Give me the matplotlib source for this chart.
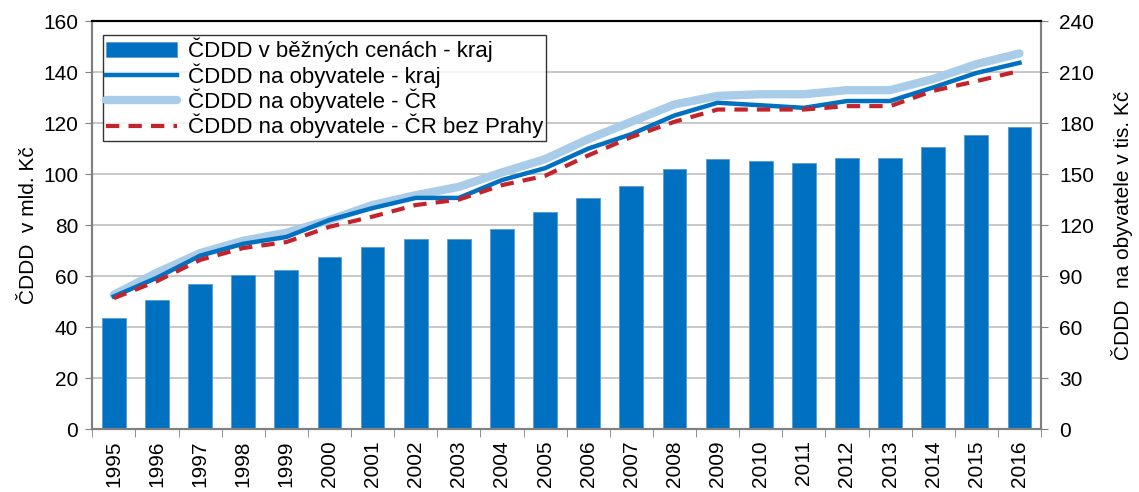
import matplotlib.pyplot as plt
import numpy as np

plt.rcParams["font.family"] = ["Liberation Sans", "DejaVu Sans"]

years = [str(y) for y in range(1995, 2017)]

# ČDDD v běžných cenách - kraj (mld. Kč), levá osa
cddd_kraj = [43.5, 50.5, 57, 60.5, 62.5, 67.5, 71.5, 74.5, 74.5, 78.5, 85,
             90.5, 95.5, 102, 106, 105, 104.5, 106.5, 106.5, 110.5, 115.5, 118.5]

# ČDDD na obyvatele (tis. Kč), pravá osa
obyv_kraj = [78, 89, 102, 109, 113, 123, 130, 136, 136, 146.5, 153.5,
             165, 173.5, 184.5, 192, 190.5, 189, 193, 193, 201, 209.5, 215.5]
obyv_cr = [79, 92, 103.5, 110.8, 115.5, 123, 131.8, 137.6, 142.5, 151, 158.8,
           170.6, 180.8, 191, 196, 197, 197, 199.4, 199.4, 206, 214.7, 221]
obyv_cr_bez_prahy = [77, 87, 99.5, 106.5, 110, 119, 125, 131.8, 135, 143.5, 149,
                     161, 171.8, 180.8, 188, 188, 188, 190, 190, 199, 204.7, 210.7]

blue = "#0070C0"
light = "#A9CCE8"
red = "#C3232B"

fig = plt.figure(figsize=(11.39, 4.92), dpi=100)
ax = fig.add_axes([0.081, 0.128, 0.833, 0.829])
ax2 = ax.twinx()

x = np.arange(len(years))
bars = ax.bar(x, cddd_kraj, width=0.55, color=blue, edgecolor="#5B9BD5",
              linewidth=0.6, label="ČDDD v běžných cenách - kraj", zorder=2)

l1, = ax2.plot(x, obyv_kraj, color=blue, lw=3.2, zorder=4,
               label="ČDDD na obyvatele - kraj")
l2, = ax2.plot(x, obyv_cr, color=light, lw=6, solid_capstyle="round", zorder=3,
               label="ČDDD na obyvatele - ČR")
l3, = ax2.plot(x, obyv_cr_bez_prahy, color=red, lw=3, dashes=(3.2, 2.2), zorder=5,
               label="ČDDD na obyvatele - ČR bez Prahy")

ax.set_xlim(-0.5, len(years) - 0.5)
ax.set_ylim(0, 160)
ax2.set_ylim(0, 240)
ax.set_yticks(np.arange(0, 161, 20))
ax2.set_yticks(np.arange(0, 241, 30))
ax.yaxis.grid(True, color="#BFBFBF", lw=1.2, zorder=0)
ax.set_axisbelow(True)

ax.set_xticks(x)
ax.set_xticklabels(years, rotation=90)
ax.set_xticks(np.arange(-0.5, len(years), 1), minor=True)
ax.tick_params(axis="x", which="major", length=0, pad=8, labelsize=15)
ax.tick_params(axis="x", which="minor", length=6, color="#808080", direction="out")

ax.tick_params(axis="y", length=5, color="#808080", labelsize=15, pad=5)
ax2.tick_params(axis="y", length=5, color="#808080", labelsize=15, pad=8)

for a in (ax, ax2):
    for s in ("left", "right", "bottom"):
        a.spines[s].set_color("#808080")
        a.spines[s].set_linewidth(1.5)
    a.spines["top"].set_color("black")
    a.spines["top"].set_linewidth(1.5)

ax.set_ylabel("ČDDD  v mld. Kč", fontsize=15, labelpad=4)
ax2.set_ylabel("ČDDD  na obyvatele v tis. Kč", fontsize=15, labelpad=12)

leg = ax2.legend([bars, l1, l2, l3],
                 [bars.get_label(), l1.get_label(), l2.get_label(), l3.get_label()],
                 loc="upper left", bbox_to_anchor=(0.0116, 0.966), fontsize=16,
                 frameon=True, fancybox=False, handlelength=3.2, handletextpad=0.5,
                 borderpad=0.12, labelspacing=0.04, borderaxespad=0)
leg.get_frame().set_edgecolor("black")
leg.get_frame().set_linewidth(1.0)

plt.savefig("out.png", dpi=100)
